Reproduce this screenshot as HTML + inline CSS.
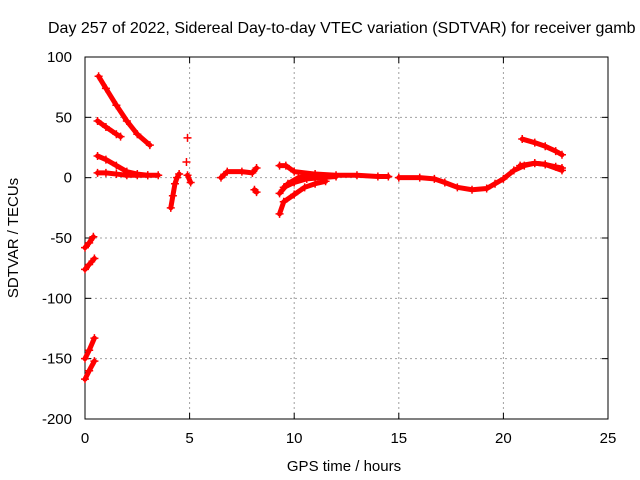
<!DOCTYPE html>
<html><head><meta charset="utf-8"><style>
body{margin:0;background:#fff;}
svg{display:block;font-family:"Liberation Sans",sans-serif;}
</style></head><body>
<svg id="chart" width="640" height="480" viewBox="0 0 640 480">
<text x="48" y="33" font-size="16" fill="#000">Day 257 of 2022, Sidereal Day-to-day VTEC variation (SDTVAR) for receiver gamb</text>
<g id="grid"></g>
<rect x="85" y="57" width="523" height="362" fill="none" stroke="#000" stroke-width="1"/>
<g id="ticks"></g>
<g id="series"></g>
<text x="344" y="471" font-size="15" text-anchor="middle">GPS time / hours</text>
<text transform="translate(18,238) rotate(-90)" font-size="15" text-anchor="middle">SDTVAR / TECUs</text>
</svg>
<script>
const xTicks=[0,5,10,15,20,25];
const yTicks=[100,50,0,-50,-100,-150,-200];
const tracks=[
[[0.65,84],[1,74],[1.5,60],[2,47],[2.5,36],[3.1,27]],
[[0.6,47],[1,42],[1.5,36],[1.7,34]],
[[0.6,18],[1,15],[1.5,10],[2,5],[2.5,3],[3,2],[3.5,2]],
[[0.6,4],[1,4],[1.5,3],[2,2],[2.5,2],[3,2]],
[[0,-58],[0.2,-54],[0.4,-49]],
[[0,-76],[0.2,-72],[0.45,-67]],
[[0,-150],[0.2,-143],[0.45,-133]],
[[0,-167],[0.2,-160],[0.45,-152]],
[[4.1,-25],[4.2,-15],[4.3,-5],[4.4,0],[4.5,3]],
[[4.9,33]],[[4.85,13]],[[4.9,2],[5.05,-4]],
[[6.5,0],[6.8,5],[7.5,5],[8,4],[8.2,8]],
[[8.1,-10],[8.2,-12]],
[[9.3,10],[9.6,10],[10,5],[11,3],[12,2],[13,2],[14,1],[14.5,1]],
[[9.3,-30],[9.5,-20],[10,-14],[10.5,-8],[11,-5],[11.5,-3]],
[[9.3,-13],[9.7,-5],[10.2,0],[11,2],[11.5,1]],
[[9.5,-8],[10,-4],[10.6,-1],[11.3,0],[12,1]],
[[15,0],[16,0],[16.7,-1],[17.2,-4],[17.8,-8],[18.5,-10],[19.2,-9],[19.6,-5],[20,-1],[20.5,6],[21,10],[21.5,12],[22,11],[22.5,9],[22.8,8]],
[[20.9,32],[21.5,29],[22,26],[22.5,22],[22.8,19]],
[[20.8,10],[21.5,12],[22,11],[22.8,6]]
];
const NS="http://www.w3.org/2000/svg";
function X(v){return 85+v*(523/25);}
function Y(v){return 57+(100-v)*(362/300);}
function mk(tag,attrs,parent){const e=document.createElementNS(NS,tag);for(const k in attrs)e.setAttribute(k,attrs[k]);parent.appendChild(e);return e;}
const grid=document.getElementById('grid'),ticks=document.getElementById('ticks'),ser=document.getElementById('series');
xTicks.forEach(t=>{
 if(t>0&&t<25){const g=mk('line',{x1:X(t),x2:X(t),y1:57,y2:419,stroke:'#a0a0a0','stroke-dasharray':'2,3'},grid);
 
 }
 mk('line',{x1:X(t),x2:X(t),y1:419,y2:413,stroke:'#000'},ticks);
 mk('line',{x1:X(t),x2:X(t),y1:57,y2:63,stroke:'#000'},ticks);
 const l=mk('text',{x:X(t),y:443,'font-size':15,'text-anchor':'middle'},ticks);l.textContent=t;
 
 
});
yTicks.forEach(t=>{
 if(t<100&&t>-200){const g=mk('line',{x1:85,x2:608,y1:Y(t),y2:Y(t),stroke:'#a0a0a0','stroke-dasharray':'2,3'},grid);
 
 }
 mk('line',{x1:85,x2:91,y1:Y(t),y2:Y(t),stroke:'#000'},ticks);
 mk('line',{x1:602,x2:608,y1:Y(t),y2:Y(t),stroke:'#000'},ticks);
 const l=mk('text',{x:72,y:Y(t)+5,'font-size':15,'text-anchor':'end'},ticks);l.textContent=t;
 
 
});
tracks.forEach(tr=>{
 if(tr.length>1){const p=mk('polyline',{points:tr.map(d=>X(d[0])+','+Y(d[1])).join(' '),fill:'none',stroke:'#f00','stroke-width':5,'stroke-linejoin':'round','stroke-linecap':'round'},ser);
 
 }
 tr.forEach(d=>{const x=X(d[0]),y=Y(d[1]);
  const m=mk('path',{d:`M${x-4},${y}H${x+4}M${x},${y-4}V${y+4}`,stroke:'#f00','stroke-width':1.5},ser);
  
  
 });
});
</script>
</body></html>
